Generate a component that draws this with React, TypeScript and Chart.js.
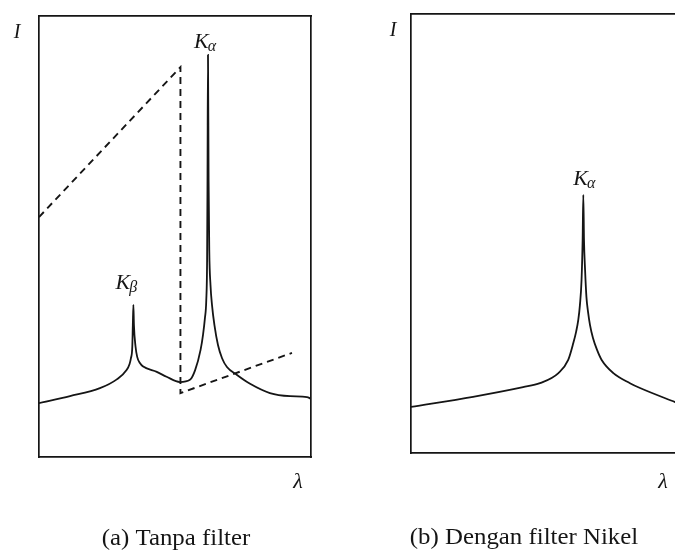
import React, { useEffect, useRef } from "react";
import { Chart, registerables } from "chart.js";

Chart.register(...registerables);

// Panel (a): spectrum without filter (λ and I in arbitrary units 0..100)
const lambdaA = [0, 11.4, 22.4, 28.6, 32.2, 33.3, 33.8, 34.3, 34.5, 34.7, 34.9, 35.5, 36.1, 37.1, 38.3, 43.3, 46.9, 51.8, 55.5, 57.4, 59.4, 60.3, 61.0, 61.5, 61.8, 61.95, 62.13, 62.35, 62.6, 63.05, 63.6, 64.5, 65.8, 67.3, 69.1, 72.8, 77.6, 84.9, 92.3, 98.5, 100];
const intensityA = [12.2, 13.8, 15.6, 17.6, 19.7, 21.1, 22.4, 25.0, 29.9, 34.5, 29.9, 25.0, 22.7, 21.3, 20.5, 19.3, 18.2, 17.0, 17.5, 19.7, 24.3, 27.7, 31.5, 35.6, 44.7, 62.8, 91.2, 62.8, 46.9, 39.0, 34.5, 29.9, 25.4, 22.4, 20.4, 18.6, 16.6, 14.5, 13.8, 13.6, 13.2];

// Panel (a): nickel absorption curve (dashed)
const edgeLambda = [0, 52, 52, 93];
const edgeIntensity = [54.4, 88.4, 14.5, 23.6];

// Panel (b): spectrum with nickel filter
const lambdaB = [0, 22.8, 41.2, 47.4, 54.2, 57.8, 59.7, 60.7, 61.5, 62.1, 62.7, 63.1, 63.35, 63.6, 64.0, 64.5, 65.1, 65.8, 66.9, 68.4, 70.1, 74.4, 80.5, 84.2, 97.1, 100];
const intensityB = [10.5, 12.8, 15.0, 15.9, 18.2, 21.2, 25.1, 27.6, 30.3, 33.7, 39.4, 48.5, 58.8, 48.5, 41.7, 35.5, 32.1, 29.2, 26.2, 23.5, 21.2, 18.2, 15.9, 14.8, 11.6, 10.9];

// Text
const axisY = "I";
const axisX = "λ";
const peakAlpha = ["K", "α"];
const peakBeta = ["K", "β"];
const captionA = "(a) Tanpa filter";
const captionB = "(b) Dengan filter Nikel";

const INK = "#151515";
const SERIF = '"Liberation Serif", "DejaVu Serif", serif';

type Pt = { x: number; y: number };
const zip = (xs: number[], ys: number[]): Pt[] => xs.map((x, i) => ({ x, y: ys[i] }));

function boxScales() {
  const common = (position: string) => ({
    type: "linear" as const,
    position,
    display: true,
    min: 0,
    max: 100,
    grid: { display: false, drawTicks: false },
    ticks: { display: false },
    border: { display: true, color: INK, width: 1.7 },
  });
  return {
    x: common("bottom"),
    x2: common("top"),
    y: common("left"),
    y2: common("right"),
  };
}

function drawSub(ctx: CanvasRenderingContext2D, main: string, sub: string, cx: number, baseline: number) {
  ctx.font = `italic 22px ${SERIF}`;
  const wMain = ctx.measureText(main).width;
  ctx.font = `italic 16px ${SERIF}`;
  const wSub = ctx.measureText(sub).width;
  const total = wMain + wSub - 1;
  const left = cx - total / 2;
  ctx.textAlign = "left";
  ctx.textBaseline = "alphabetic";
  ctx.font = `italic 22px ${SERIF}`;
  ctx.fillText(main, left, baseline);
  ctx.font = `italic 16px ${SERIF}`;
  ctx.fillText(sub, left + wMain - 1, baseline + 3);
}

type LabelSpec = {
  peaks: { text: string[]; x: number; y: number; dx: number; dy: number }[];
  iPos: [number, number];
  lPos: [number, number];
  caption: string;
  capPos: [number, number];
};

function makeTextPlugin(spec: LabelSpec) {
  return {
    id: "figText",
    afterDraw(chart: any) {
      const { ctx, chartArea, scales } = chart;
      ctx.save();
      ctx.fillStyle = INK;
      ctx.textAlign = "center";
      ctx.textBaseline = "alphabetic";
      ctx.font = `italic 20px ${SERIF}`;
      ctx.fillText(axisY, chartArea.left + spec.iPos[0], chartArea.top + spec.iPos[1]);
      ctx.font = `italic 22px ${SERIF}`;
      ctx.fillText(axisX, chartArea.right + spec.lPos[0], chartArea.bottom + spec.lPos[1]);
      for (const p of spec.peaks) {
        const px = scales.x.getPixelForValue(p.x);
        const py = scales.y.getPixelForValue(p.y);
        drawSub(ctx, p.text[0], p.text[1], px + p.dx, py + p.dy);
      }
      ctx.save();
      ctx.translate(spec.capPos[0], spec.capPos[1]);
      ctx.scale(1.08, 1);
      ctx.font = `23px ${SERIF}`;
      ctx.textAlign = "center";
      ctx.fillText(spec.caption, 0, 0);
      ctx.restore();
      ctx.restore();
    },
  };
}

function Panel(props: {
  left: number;
  width: number;
  padding: { left: number; right: number; top: number; bottom: number };
  datasets: any[];
  spec: LabelSpec;
}) {
  const ref = useRef<HTMLCanvasElement | null>(null);
  useEffect(() => {
    if (!ref.current) return;
    const chart = new Chart(ref.current, {
      type: "scatter",
      data: { datasets: props.datasets },
      options: {
        animation: false,
        responsive: false,
        devicePixelRatio: 1,
        layout: { padding: props.padding },
        plugins: { legend: { display: false }, tooltip: { enabled: false } },
        scales: boxScales() as any,
      },
      plugins: [makeTextPlugin(props.spec)],
    });
    return () => chart.destroy();
  }, []);
  return (
    <canvas
      ref={ref}
      width={props.width}
      height={552}
      style={{ position: "absolute", left: props.left, top: 0, width: props.width, height: 552 }}
    />
  );
}

export default function App() {
  const peakIdxA = intensityA.indexOf(Math.max(...intensityA));
  const betaIdx = intensityA.indexOf(Math.max(...intensityA.slice(0, 15)));
  const peakIdxB = intensityB.indexOf(Math.max(...intensityB));

  const dsA = [
    {
      data: zip(lambdaA, intensityA),
      showLine: true,
      borderColor: INK,
      borderWidth: 1.8,
      pointRadius: 0,
      cubicInterpolationMode: "monotone",
    },
    {
      data: zip(edgeLambda, edgeIntensity),
      showLine: true,
      borderColor: INK,
      borderWidth: 1.9,
      borderDash: [7, 5],
      pointRadius: 0,
      tension: 0,
    },
  ];
  const dsB = [
    {
      data: zip(lambdaB, intensityB),
      showLine: true,
      borderColor: INK,
      borderWidth: 1.8,
      pointRadius: 0,
      cubicInterpolationMode: "monotone",
    },
  ];

  const specA: LabelSpec = {
    peaks: [
      { text: peakAlpha, x: lambdaA[peakIdxA], y: intensityA[peakIdxA], dx: -3, dy: -7 },
      { text: peakBeta, x: lambdaA[betaIdx], y: intensityA[betaIdx], dx: -7, dy: -16 },
    ],
    iPos: [-22, 22],
    lPos: [-13, 31],
    caption: captionA,
    capPos: [176, 545],
  };
  const specB: LabelSpec = {
    peaks: [{ text: peakAlpha, x: lambdaB[peakIdxB], y: intensityB[peakIdxB], dx: 1, dy: -10 }],
    iPos: [-18, 22],
    lPos: [-20, 35],
    caption: captionB,
    capPos: [184, 544],
  };

  return (
    <div
      style={{
        position: "fixed",
        left: 0,
        top: 0,
        width: 675,
        height: 552,
        overflow: "hidden",
        background: "#fff",
      }}
    >
      <Panel left={0} width={340} padding={{ left: 39, right: 29, top: 16, bottom: 95 }} datasets={dsA} spec={specA} />
      <Panel left={340} width={360} padding={{ left: 71, right: 17, top: 14, bottom: 99 }} datasets={dsB} spec={specB} />
    </div>
  );
}
